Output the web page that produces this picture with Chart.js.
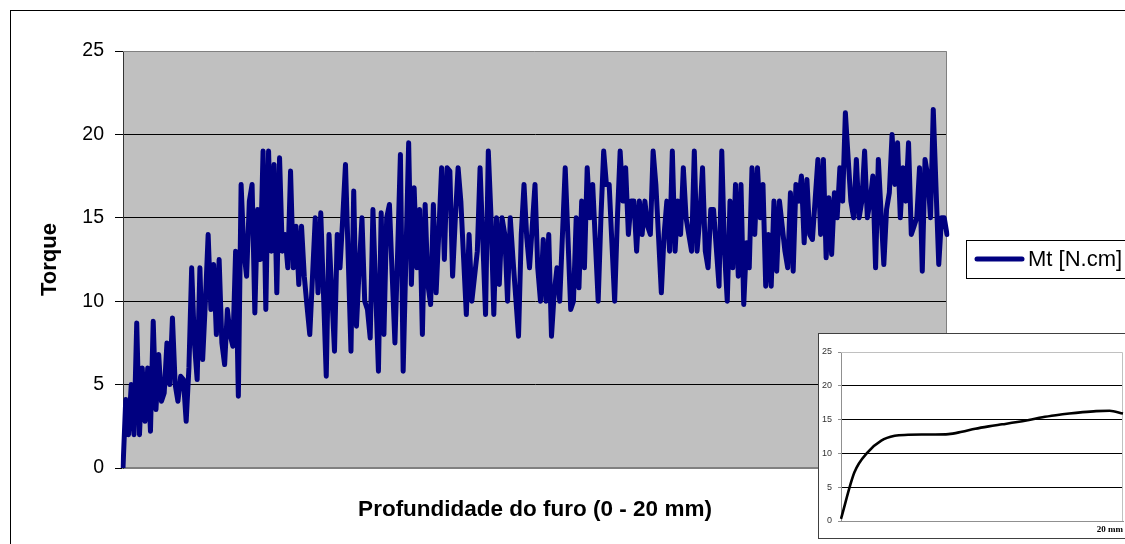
<!DOCTYPE html>
<html><head><meta charset="utf-8">
<script src="https://cdn.jsdelivr.net/npm/chart.js@4.4.1/dist/chart.umd.min.js"></script>
<style>
html,body{margin:0;padding:0;width:1125px;height:544px;overflow:hidden;background:#fff;}
#frame{position:absolute;left:10px;top:10px;width:1200px;height:600px;border:1px solid #000;box-sizing:border-box;}
#main{position:absolute;left:0;top:0;}
#insetBox{position:absolute;left:818px;top:333px;width:340px;height:206px;background:#fff;border:1px solid #404040;box-sizing:border-box;}
#inset{position:absolute;left:0;top:0;}
</style></head><body>
<div id="frame"></div>
<canvas id="main" width="1125" height="544"></canvas>
<div id="insetBox"><canvas id="inset" width="338" height="204"></canvas></div>
<script>
// ---- data ----
const seriesLabel = 'Mt [N.cm]';
const xTitle = 'Profundidade do furo (0 - 20 mm)';
const yTitle = 'Torque';
const yMin = 0, yMax = 25, yStep = 5;

const torqueA = [0, 4.1, 2, 5, 2, 8.7, 2, 6, 2.8, 6, 2.2, 8.8, 3.5, 6.8, 4, 4.5, 7.5, 5, 9, 5, 4, 5.5, 5.3, 2.8, 6, 12, 7.5, 5.3, 12, 6.5, 10, 14, 9.5, 12.2, 8, 12.5, 7.5, 6.2, 9.5, 8, 7.3, 13, 4.3, 17, 13, 11.5, 16, 17, 9.3, 15.5, 12.5, 19, 9.5, 19];
const torqueB = [13, 18.2, 10.5, 18.6, 13, 14, 12, 17.8, 12, 14.5, 11, 14.5, 11.5, 9.7, 8, 11.5, 15, 10.5, 15.3, 10.4, 5.5, 14, 10.5, 7, 14, 12, 15, 18.2, 12.6, 7, 16.6, 8.5, 12, 15, 10, 9.5, 7.8, 15.5, 10.6, 5.8, 15.3, 8, 15, 15.8, 11.6, 7.5, 13, 18.8];
const torqueC = [5.8, 12.6, 19.5, 11, 16.8, 12, 15.5, 8, 15.8, 11, 9.8, 15.8, 10.5, 14.2, 18, 12.5, 18, 17.8, 11.5, 15, 18, 16, 12.6, 9.2, 14, 10, 11.5, 13, 18, 13.6, 9.2, 19, 15, 9.2, 15, 11, 15, 14, 10, 15, 12.5, 10.2, 7.9, 14, 17, 13.8, 12, 14.5, 17, 12, 10, 13.7];
const torqueD = [10, 14, 7.9, 10.5, 12, 10, 14, 18, 13.8, 9.5, 10, 15, 10.8, 16, 12, 18, 15, 17, 13.5, 10, 15, 19, 17, 17, 13.5, 10, 15, 19, 16, 18, 14, 16, 16, 13, 16, 14, 16, 14.5, 14, 19, 17, 13.8, 10.5, 14, 16, 13, 19, 13, 16];
const torqueE = [14, 18, 15, 14, 13, 19, 13, 15, 18, 13, 12, 15.5, 15.5, 13.2, 10.9, 19, 13, 10, 16, 12, 17, 11.5, 17, 9.8, 13.5, 12, 18, 14, 18, 15, 17, 10.9, 14, 10.9, 16, 11.8, 16, 14.5, 13, 12, 16.5, 11.8, 17, 16, 17.5, 13.5, 17.3, 14, 13.7, 16.1, 18.5];
const torqueF = [14, 18.5, 12.6, 16.2, 12.8, 16.5, 15, 18, 16, 21.3, 18.6, 16, 15, 18.5, 15, 16, 19, 15, 16, 17.5, 12, 18.5, 15.3, 12.2, 15.5, 16.5, 20, 17, 19.5, 15, 18, 16, 19.5, 14, 14.5, 15, 18, 11.8, 18.5, 17.5, 15, 21.5, 16.8, 12.2, 15, 15, 14];

// inset: smoothed trend curve
const insetTrend = [0.3, 7.2, 10.2, 11.9, 12.6, 12.75, 12.8, 12.8, 12.85, 13.2, 13.65, 14.0, 14.3, 14.6, 14.95, 15.35, 15.65, 15.9, 16.1, 16.25, 16.3, 15.9];
const insetXTitle = '20 mm';

const torque = [].concat(torqueA, torqueB, torqueC, torqueD, torqueE, torqueF);

Chart.defaults.font.family = "'Liberation Sans', Arial, sans-serif";
Chart.defaults.color = '#000';

const plotBg = {
  id: 'plotBg',
  beforeDraw(chart, args, opts) {
    const {ctx, chartArea: a} = chart;
    ctx.save();
    ctx.fillStyle = opts.color;
    ctx.fillRect(a.left, a.top, a.right - a.left, a.bottom - a.top);
    ctx.restore();
  },
  beforeDatasetsDraw(chart, args, opts) {
    if (!opts.border) return;
    const {ctx, chartArea: a} = chart;
    ctx.save();
    ctx.strokeStyle = opts.border;
    ctx.lineWidth = 1;
    ctx.beginPath();
    ctx.moveTo(a.left, a.top + 0.5);
    ctx.lineTo(a.right - 0.5, a.top + 0.5);
    ctx.lineTo(a.right - 0.5, a.bottom);
    ctx.stroke();
    ctx.restore();
  }
};

const boxLegend = {
  id: 'boxLegend',
  afterDraw(chart) {
    const {ctx} = chart;
    const ds = chart.data.datasets[0];
    const x = 966, y = 240, w = 170, h = 38;
    ctx.save();
    ctx.fillStyle = '#fff';
    ctx.fillRect(x, y, w, h);
    ctx.strokeStyle = '#000';
    ctx.lineWidth = 1;
    ctx.strokeRect(x + 0.5, y + 0.5, w, h);
    ctx.strokeStyle = ds.borderColor;
    ctx.lineWidth = ds.borderWidth;
    ctx.lineCap = 'round';
    ctx.beginPath();
    ctx.moveTo(977, y + h / 2);
    ctx.lineTo(1022, y + h / 2);
    ctx.stroke();
    ctx.fillStyle = '#000';
    ctx.font = "22px 'Liberation Sans', Arial, sans-serif";
    ctx.textBaseline = 'middle';
    ctx.fillText(ds.label, 1028, y + h / 2 + 1);
    ctx.restore();
  }
};

new Chart(document.getElementById('main'), {
  type: 'line',
  data: {
    labels: torque.map((_, i) => i),
    datasets: [{
      label: seriesLabel,
      data: torque,
      borderColor: '#000080',
      borderWidth: 5,
      pointRadius: 0,
      tension: 0,
      borderJoinStyle: 'round',
      borderCapStyle: 'round',
      fill: false
    }]
  },
  options: {
    responsive: false,
    animation: false,
    events: [],
    layout: {padding: {left: 0, right: 178, top: 51, bottom: 0}},
    plugins: {
      legend: {display: false},
      tooltip: {enabled: false},
      plotBg: {color: '#c0c0c0', border: '#808080'}
    },
    scales: {
      x: {
        type: 'category',
        offset: false,
        ticks: {display: false},
        grid: {display: false, drawTicks: false},
        border: {display: true, color: '#808080', width: 2},
        title: {display: true, text: xTitle, color: '#000',
          font: {size: 22.5, weight: 'bold'}, padding: {top: 0, bottom: 20.5}},
        afterFit(s) { s.height = 76; }
      },
      y: {
        min: yMin, max: yMax,
        ticks: {stepSize: yStep, color: '#000', font: {size: 19.5}, padding: 11},
        grid: {
          color: c => (c.tick.value === yMax || c.tick.value === yMin) ? 'rgba(0,0,0,0)' : '#000',
          tickColor: '#000', tickLength: 8, lineWidth: 1
        },
        border: {display: true, color: '#333', width: 1},
        title: {display: true, text: yTitle, color: '#000',
          font: {size: 22, weight: 'bold'}, padding: {top: 36.5, bottom: 0}},
        afterFit(s) { s.width = 123; }
      }
    }
  },
  plugins: [plotBg, boxLegend]
});

new Chart(document.getElementById('inset'), {
  type: 'line',
  data: {
    labels: insetTrend.map((_, i) => i),
    datasets: [{
      data: insetTrend,
      borderColor: '#000',
      borderWidth: 2.6,
      pointRadius: 0,
      cubicInterpolationMode: 'monotone',
      fill: false
    }]
  },
  options: {
    responsive: false,
    animation: false,
    events: [],
    layout: {padding: {left: 0, right: 34, top: 18, bottom: 0}},
    plugins: {
      legend: {display: false},
      tooltip: {enabled: false},
      plotBg: {color: '#fff', border: '#c0c0c0'}
    },
    scales: {
      x: {
        type: 'category',
        offset: false,
        ticks: {display: false},
        grid: {display: false, drawTicks: false},
        border: {display: true, color: '#909090', width: 1},
        title: {display: true, text: insetXTitle, align: 'end', color: '#000',
          font: {family: "'Liberation Serif', 'Times New Roman', serif", size: 9, weight: 'bold'}, padding: {top: 0, bottom: 3}},
        afterFit(s) { s.height = 17; }
      },
      y: {
        min: yMin, max: yMax,
        ticks: {stepSize: yStep, color: '#333', font: {size: 9}, padding: 6},
        grid: {
          color: c => (c.tick.value === yMax || c.tick.value === yMin) ? 'rgba(0,0,0,0)' : '#000',
          tickColor: '#909090', tickLength: 3, lineWidth: 1
        },
        border: {display: true, color: '#909090', width: 1},
        afterFit(s) { s.width = 22; }
      }
    }
  },
  plugins: [plotBg]
});
</script>
</body></html>
